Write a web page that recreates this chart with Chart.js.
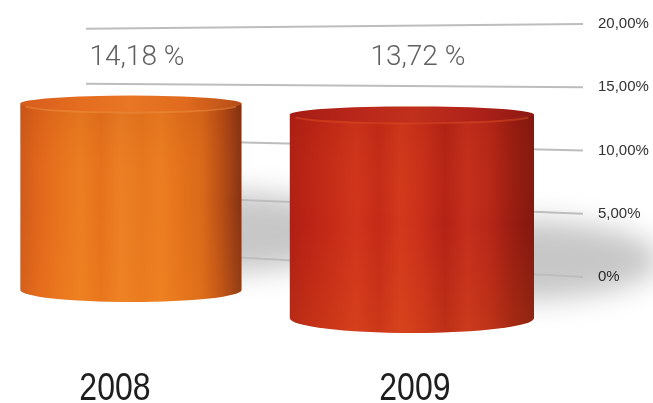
<!DOCTYPE html>
<html>
<head>
    <title>Rate 2008 - 2009</title>
    <script src="https://cdn.jsdelivr.net/npm/chart.js"></script>
    <style>
        html, body { margin: 0; padding: 0; background: #ffffff; }
        #wrap { width: 653px; height: 403px; }
    </style>
</head>
<body>
<div id="wrap"><canvas id="rateChart" width="653" height="403"></canvas></div>

<script>
    // data
    const years = [2008, 2009];
    const rates = [14.18, 13.72];
    const valueLabels = ['14,18 %', '13,72 %'];
    const yTicks = [0, 5, 10, 15, 20];
    const yTickLabels = ['0%', '5,00%', '10,00%', '15,00%', '20,00%'];

    // look of the cylinders (perspective fudge, per bar)
    const widthScale = [0.96, 1.06];
    const topDrop = [6, 11];
    const baseDrop = [13, 41];
    const topRy = [8, 8];
    const bottomRy = [12, 15];
    const yearShift = [-16, 3];
    const palettes = [
        { body: ['#d05a1a', '#e2681c', '#e8741e', '#ec7e22', '#e6721c', '#ec8024', '#e8781e', '#ec7e22', '#e4721c', '#da6a1a', '#b84e16', '#833214'],
          top: ['#d65c1c', '#e46c20', '#e87624', '#e06a1e', '#b44c18'], rim: '#f09040' },
        { body: ['#b01e14', '#bc2416', '#c62c18', '#d0341c', '#c42a18', '#d2381c', '#c82e1a', '#b42216', '#c42e1c', '#b62618', '#9a1c12', '#801810'],
          top: ['#a41c14', '#b8261a', '#c0301c', '#b0221a', '#8c1812'], rim: '#d84a24' }
    ];

    function gradientFrom(ctx, x0, x1, colors) {
        const g = ctx.createLinearGradient(x0, 0, x1, 0);
        colors.forEach((c, i) => g.addColorStop(i / (colors.length - 1), c));
        return g;
    }

    const cylinderPlugin = {
        id: 'cylinders',
        beforeDatasetsDraw(chart) {
            const ctx = chart.ctx;
            const yScale = chart.scales.y;
            const area = chart.chartArea;
            const bars = chart.getDatasetMeta(0).data;

            // soft cast shadows behind the cylinders
            bars.forEach((el, i) => {
                const w = el.width * widthScale[i];
                const yB = yScale.getPixelForValue(0) + baseDrop[i];
                ctx.save();
                ctx.filter = 'blur(14px)';
                ctx.fillStyle = 'rgba(0,0,0,0.22)';
                ctx.beginPath();
                ctx.ellipse(el.x + w * 0.42, yB - 58, w * 0.6, 40, 0, 0, Math.PI * 2);
                ctx.fill();
                ctx.restore();
            });

            // slanted grid lines, right end sits on the tick
            const y0 = 60, shrink = 0.87, xStart = 86;
            ctx.save();
            ctx.strokeStyle = '#bdbdbd';
            ctx.lineWidth = 2;
            yTicks.forEach(v => {
                const yr = yScale.getPixelForValue(v);
                const yl = y0 + (yr - y0) * shrink;
                ctx.beginPath();
                ctx.moveTo(xStart, yl);
                ctx.lineTo(area.right, yr);
                ctx.stroke();
            });
            ctx.restore();
        },
        afterDatasetsDraw(chart) {
            const ctx = chart.ctx;
            const yScale = chart.scales.y;
            const xScale = chart.scales.x;
            const bars = chart.getDatasetMeta(0).data;

            bars.forEach((el, i) => {
                const w = el.width * widthScale[i];
                const rx = w / 2;
                const cx = el.x;
                const left = cx - rx, right = cx + rx;
                const yT = el.y + topDrop[i];
                const yB = yScale.getPixelForValue(0) + baseDrop[i];
                const pal = palettes[i];

                ctx.save();
                // body
                ctx.beginPath();
                ctx.moveTo(left, yT);
                ctx.lineTo(left, yB);
                ctx.ellipse(cx, yB, rx, bottomRy[i], 0, Math.PI, 0, true);
                ctx.lineTo(right, yT);
                ctx.closePath();
                ctx.fillStyle = gradientFrom(ctx, left, right, pal.body);
                ctx.fill();

                // a bit warmer toward the floor
                const vg = ctx.createLinearGradient(0, yT, 0, yB + bottomRy[i]);
                vg.addColorStop(0, 'rgba(120,20,0,0.10)');
                vg.addColorStop(0.5, 'rgba(255,140,40,0.0)');
                vg.addColorStop(1, 'rgba(255,150,30,0.12)');
                ctx.fillStyle = vg;
                ctx.fill();

                // top face
                ctx.beginPath();
                ctx.ellipse(cx, yT, rx, topRy[i], 0, 0, Math.PI * 2);
                ctx.fillStyle = gradientFrom(ctx, left, right, pal.top);
                ctx.fill();

                // front rim highlight
                ctx.beginPath();
                ctx.ellipse(cx, yT + 1, rx - 2, topRy[i], 0, 0.08 * Math.PI, 0.92 * Math.PI);
                ctx.strokeStyle = pal.rim;
                ctx.globalAlpha = 0.5;
                ctx.lineWidth = 2;
                ctx.stroke();
                ctx.restore();
            });

            // value labels between the 20% and 15% lines
            ctx.save();
            ctx.font = '300 28px Roboto, "Liberation Sans", sans-serif';
            ctx.fillStyle = '#5f5f5f';
            ctx.textAlign = 'center';
            ctx.textBaseline = 'middle';
            bars.forEach((el, i) => {
                ctx.fillText(valueLabels[i], el.x + 6, yScale.getPixelForValue(17.3));
            });
            ctx.restore();

            // year labels from the x scale ticks, in a narrow face
            ctx.save();
            ctx.font = '39px "Liberation Sans", Arial, sans-serif';
            ctx.fillStyle = '#1e1e1e';
            ctx.textAlign = 'center';
            ctx.textBaseline = 'alphabetic';
            xScale.ticks.forEach((t, i) => {
                ctx.save();
                ctx.translate(xScale.getPixelForValue(t.value) + yearShift[i], 400);
                ctx.scale(0.82, 1);
                ctx.fillText(String(t.value), 0, 0);
                ctx.restore();
            });
            ctx.restore();
        }
    };

    const ctx = document.getElementById('rateChart').getContext('2d');
    const chart = new Chart(ctx, {
        type: 'bar',
        data: {
            datasets: [{
                data: years.map((y, i) => ({ x: y, y: rates[i] })),
                backgroundColor: 'rgba(0,0,0,0)',
                borderWidth: 0,
                categoryPercentage: 0.82,
                barPercentage: 1
            }]
        },
        options: {
            responsive: false,
            animation: false,
            layout: { padding: { top: 23, right: 0, bottom: 126, left: 0 } },
            plugins: { legend: { display: false }, tooltip: { enabled: false } },
            scales: {
                x: {
                    type: 'linear',
                    offset: false,
                    min: 2007.534,
                    max: 2009.609,
                    afterBuildTicks: scale => { scale.ticks = years.map(v => ({ value: v })); },
                    grid: { display: false, drawTicks: false },
                    border: { display: false },
                    ticks: { display: false }
                },
                y: {
                    position: 'right',
                    min: 0,
                    max: 20,
                    afterBuildTicks: scale => { scale.ticks = yTicks.map(v => ({ value: v })); },
                    afterFit: scale => { scale.width = 70; },
                    grid: { display: false, drawTicks: false },
                    border: { display: false },
                    ticks: {
                        callback: (v, i) => yTickLabels[i],
                        padding: 15,
                        color: '#333333',
                        font: { family: '"Liberation Sans", Arial, sans-serif', size: 15 }
                    }
                }
            }
        },
        plugins: [cylinderPlugin]
    });
</script>
</body>
</html>
